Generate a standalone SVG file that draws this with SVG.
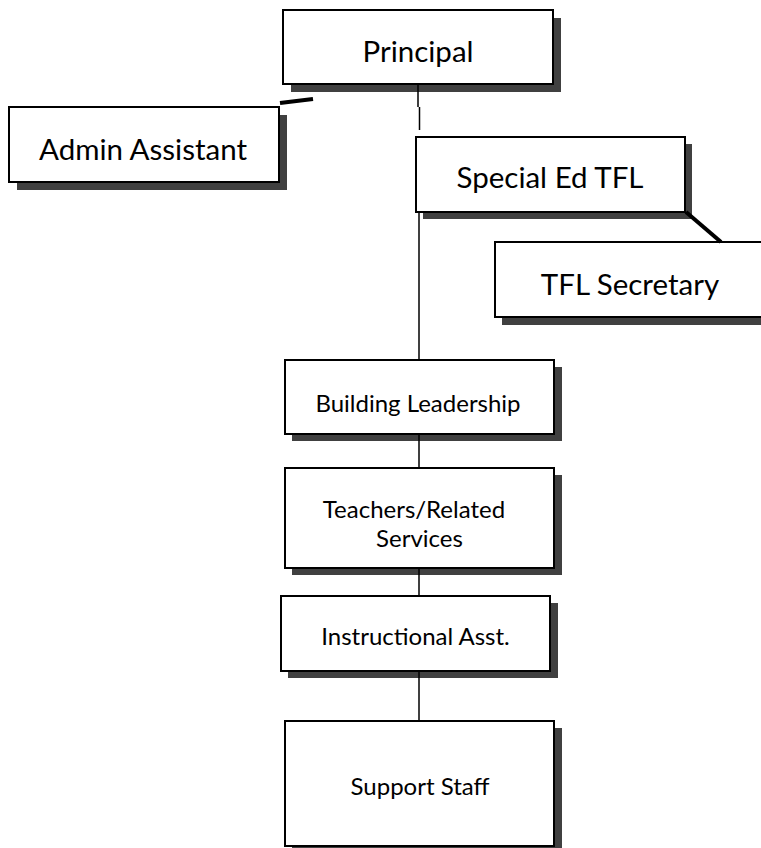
<svg xmlns="http://www.w3.org/2000/svg" width="761" height="848" viewBox="0 0 761 848">
<style>
.sh{fill:#404040;stroke:none}
.bx{fill:#fff;stroke:#000;stroke-width:2}
.t1{font-family:Lato,"Open Sans","Liberation Sans",sans-serif;font-size:29.5px;fill:#000;text-anchor:middle}
.t2{font-family:Lato,"Open Sans","Liberation Sans",sans-serif;font-size:24px;fill:#000;text-anchor:middle}
.ln{fill:none;stroke:#000;stroke-width:1.5}
.tk{fill:none;stroke:#000;stroke-width:4}
</style>
<rect width="761" height="848" fill="#fff"/>
<g id="principal">
<rect class="sh" x="291" y="18" width="270" height="74"/>
<rect class="bx" x="283" y="10" width="270" height="74"/>
<text class="t1" x="418" y="62">Principal</text>
</g>
<g id="admin-assistant">
<rect class="sh" x="17" y="115" width="270" height="75"/>
<rect class="bx" x="9" y="107" width="270" height="75"/>
<text class="t1" x="143" y="160">Admin Assistant</text>
</g>
<g id="special-ed-tfl">
<rect class="sh" x="423" y="144" width="269" height="75"/>
<rect class="bx" x="416" y="137" width="269" height="75"/>
<text class="t1" x="550" y="188">Special Ed TFL</text>
</g>
<g id="tfl-secretary">
<rect class="sh" x="502" y="249" width="269" height="76"/>
<rect class="bx" x="495" y="242" width="269" height="75"/>
<text class="t1" x="630" y="295">TFL Secretary</text>
</g>
<g id="building-leadership">
<rect class="sh" x="292" y="367" width="270" height="74"/>
<rect class="bx" x="285" y="360" width="269" height="74"/>
<text class="t2" x="418" y="412">Building Leadership</text>
</g>
<g id="teachers">
<rect class="sh" x="292" y="475" width="270" height="100"/>
<rect class="bx" x="285" y="468" width="269" height="100"/>
<text class="t2" x="414" y="518">Teachers/Related</text>
<text class="t2" x="419.5" y="547">Services</text>
</g>
<g id="instructional-asst">
<rect class="sh" x="288" y="603" width="270" height="75"/>
<rect class="bx" x="281" y="596" width="269" height="75"/>
<text class="t2" x="415.5" y="645">Instructional Asst.</text>
</g>
<g id="support-staff">
<rect class="sh" x="292" y="728" width="270" height="125"/>
<rect class="bx" x="285" y="721" width="269" height="125"/>
<text class="t2" x="420" y="795">Support Staff</text>
</g>
<g id="connectors">
<path class="ln" d="M418 84 V107 M419.5 107 V130"/>
<path class="ln" d="M419 212 V360"/>
<path class="ln" d="M419 434 V468"/>
<path class="ln" d="M419 568 V596"/>
<path class="ln" d="M419 671 V721"/>
<path class="tk" d="M280 103 L313 99"/>
<path class="tk" d="M686 212 L721 242"/>
</g>
</svg>
